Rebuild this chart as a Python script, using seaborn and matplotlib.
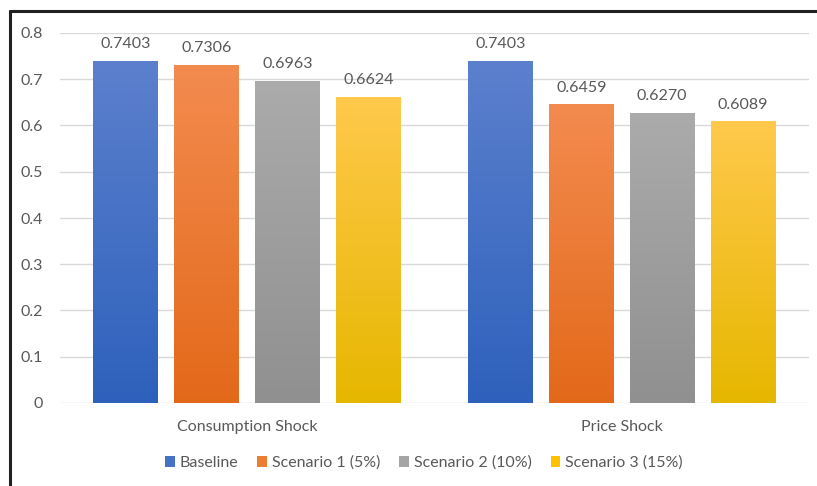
import numpy as np
import pandas as pd
import matplotlib
matplotlib.use("Agg")
import matplotlib.pyplot as plt
import seaborn as sns
from matplotlib.colors import LinearSegmentedColormap
from matplotlib.lines import Line2D
from matplotlib.patches import Patch
from matplotlib.ticker import FuncFormatter

categories = ["Consumption Shock", "Price Shock"]
series = ["Baseline", "Scenario 1 (5%)", "Scenario 2 (10%)", "Scenario 3 (15%)"]
baseline = [0.7403, 0.7403]
scenario1 = [0.7306, 0.6459]
scenario2 = [0.6963, 0.6270]
scenario3 = [0.6624, 0.6089]

top_colors = ["#5C80CD", "#F38B4F", "#ABABAB", "#FFC94C"]
bottom_colors = ["#2E61BC", "#E3691A", "#909090", "#E6B700"]
legend_colors = ["#4472C4", "#ED7D31", "#A5A5A5", "#FFC000"]

rows = []
for s, vals in zip(series, [baseline, scenario1, scenario2, scenario3]):
    for c, v in zip(categories, vals):
        rows.append({"category": c, "series": s, "value": v})
df = pd.DataFrame(rows)

sns.set_theme(style="white")
plt.rcParams["font.family"] = ["Lato", "DejaVu Sans"]
text_color = "#595959"

fig = plt.figure(figsize=(8.17, 4.86), dpi=100)
ax = fig.add_axes([60 / 817, 1 - 403 / 486, 749 / 817, 370 / 486])

sns.barplot(data=df, x="category", y="value", hue="series", order=categories,
            hue_order=series, palette=legend_colors, width=0.865, gap=0.2,
            ax=ax, legend=False, saturation=1)

ax.set_ylim(0, 0.8)
ax.set_xlim(-0.5, 1.5)
ax.set_yticks(np.arange(0, 0.81, 0.1))
ax.yaxis.set_major_formatter(FuncFormatter(lambda v, p: "0" if abs(v) < 1e-9 else f"{v:.1f}"))
ax.grid(axis="y", color="#D9D9D9", linewidth=1)
ax.set_axisbelow(True)
for sp in ax.spines.values():
    sp.set_visible(False)
ax.set_xlabel("")
ax.set_ylabel("")
ax.tick_params(axis="y", colors=text_color, labelsize=11.5, length=0, pad=12)
ax.tick_params(axis="x", colors=text_color, labelsize=11.5, length=0, pad=12)

# gradient fills
grad = np.linspace(0, 1, 256).reshape(-1, 1)
for container, tc, bc in zip(ax.containers, top_colors, bottom_colors):
    cmap = LinearSegmentedColormap.from_list("g", [bc, tc])
    for patch in container.patches:
        x0, y0 = patch.get_x(), patch.get_y()
        w, h = patch.get_width(), patch.get_height()
        im = ax.imshow(grad, extent=[x0, x0 + w, y0, y0 + h], origin="lower",
                       cmap=cmap, aspect="auto", zorder=2)
        im.set_clip_path(patch)
        patch.set_facecolor("none")
        patch.set_edgecolor("none")
    ax.bar_label(container, labels=[f"{p.get_height():.4f}" for p in container.patches],
                 padding=7, color=text_color, fontsize=11.5)
ax.set_xlim(-0.5, 1.5)
ax.set_ylim(0, 0.8)

handles = [Patch(facecolor=c, edgecolor="none") for c in legend_colors]
fig.legend(handles, series, loc="center", bbox_to_anchor=(424 / 817, 1 - 463 / 486),
           ncol=4, frameon=False, fontsize=11.5, labelcolor=text_color,
           handlelength=0.6, handleheight=0.6, handletextpad=0.3, columnspacing=1.2)

# outer frame (left and top dark lines)
fig.add_artist(Line2D([9.5 / 817, 9.5 / 817], [0, 1 - 11 / 486], transform=fig.transFigure,
                      color="#202020", linewidth=2.2))
fig.add_artist(Line2D([9.5 / 817, 1], [1 - 11 / 486, 1 - 11 / 486], transform=fig.transFigure,
                      color="#202020", linewidth=2.2))

fig.savefig("out.png", dpi=100)
